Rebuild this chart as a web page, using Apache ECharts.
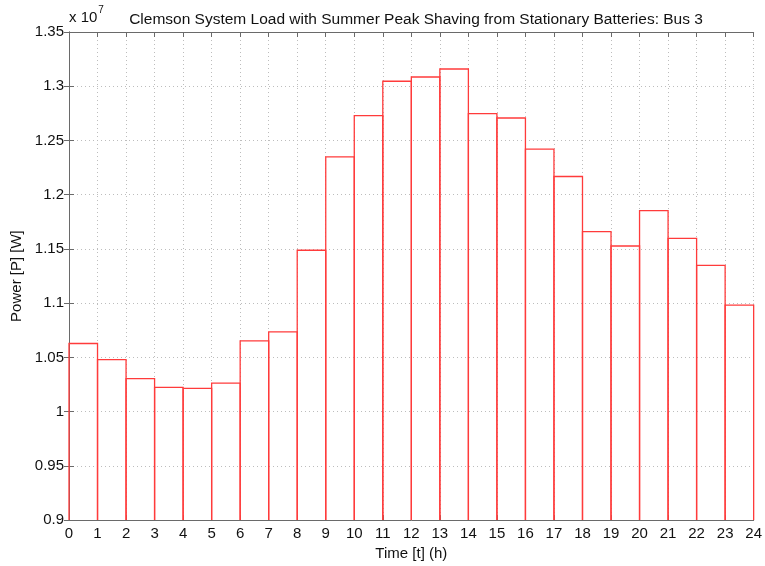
<!DOCTYPE html>
<html>
<head>
<meta charset="utf-8">
<script src="https://cdn.jsdelivr.net/npm/echarts@6/dist/echarts.min.js"></script>
<style>
  html, body { margin: 0; padding: 0; background: #fff; }
  #chart { width: 765px; height: 566px; }
</style>
</head>
<body>
<div id="chart"></div>
<script>
// Hour at which each one-hour block starts
const hourStarts = [0, 1, 2, 3, 4, 5, 6, 7, 8, 9, 10, 11, 12, 13, 14, 15, 16, 17, 18, 19, 20, 21, 22, 23];
// Bus 3 load after peak shaving, in watts
const loadWatts = [
  1.0628e7, 1.0479e7, 1.0305e7, 1.0223e7, 1.0214e7, 1.0262e7,
  1.0652e7, 1.0735e7, 1.1488e7, 1.2348e7, 1.2729e7, 1.3046e7,
  1.3085e7, 1.3159e7, 1.2747e7, 1.2707e7, 1.2421e7, 1.2168e7,
  1.1659e7, 1.1527e7, 1.1854e7, 1.1598e7, 1.1348e7, 1.0982e7
];
const yMin = 0.9e7, yMax = 1.35e7, yStep = 0.05e7;
const titleText = 'Clemson System Load with Summer Peak Shaving from Stationary Batteries: Bus 3';

const chart = echarts.init(document.getElementById('chart'), null, { renderer: 'canvas' });
const font = 'Liberation Sans, Arial, Helvetica, sans-serif';
const frameColor = '#6a6a6a';

const seriesData = hourStarts.map((h, i) => [h, loadWatts[i]]);

const option = {
  animation: false,
  backgroundColor: '#ffffff',
  title: {
    text: titleText,
    left: 411, top: 7, textAlign: 'center',
    textStyle: { fontFamily: font, fontSize: 15.5, fontWeight: 'normal', color: '#111' }
  },
  graphic: [{
    type: 'text', left: 69, top: 5,
    style: {
      text: '{b|x 10}{s|7}',
      rich: {
        b: { fontFamily: font, fontSize: 15, fill: '#111', verticalAlign: 'bottom', lineHeight: 20 },
        s: { fontFamily: font, fontSize: 10, fill: '#111', verticalAlign: 'top', lineHeight: 20, padding: [0, 0, 9, 1] }
      }
    }
  }],
  grid: { left: 69, right: 11, top: 32, bottom: 42, containLabel: false },
  xAxis: [{
    type: 'value', min: 0, max: 24, interval: 1, position: 'bottom',
    name: 'Time [t] (h)', nameLocation: 'middle', nameGap: 22,
    nameTextStyle: { fontFamily: font, fontSize: 15, color: '#111' },
    axisLine: { show: true, lineStyle: { color: frameColor, width: 1 } },
    axisTick: { show: true, inside: true, length: 5, lineStyle: { color: frameColor } },
    axisLabel: { fontFamily: font, fontSize: 15, color: '#111', margin: 6 },
    splitLine: { show: true, lineStyle: { color: '#bdbdbd', type: [1, 3], width: 1 } }
  }, {
    type: 'value', min: 0, max: 24, interval: 1, position: 'top',
    axisLine: { show: true, lineStyle: { color: frameColor, width: 1 } },
    axisTick: { show: true, inside: true, length: 5, lineStyle: { color: frameColor } },
    axisLabel: { show: false },
    splitLine: { show: false }
  }],
  yAxis: [{
    type: 'value', min: yMin, max: yMax, interval: yStep, position: 'left',
    name: 'Power [P] [W]', nameLocation: 'middle', nameGap: 39,
    nameTextStyle: { fontFamily: font, fontSize: 15, color: '#111' },
    axisLine: { show: true, lineStyle: { color: frameColor, width: 1 } },
    axisTick: { show: true, inside: true, length: 5, lineStyle: { color: frameColor } },
    axisLabel: {
      fontFamily: font, fontSize: 15, color: '#111', margin: 5,
      formatter: v => String(parseFloat((v / 1e7).toFixed(2)))
    },
    splitLine: { show: true, lineStyle: { color: '#bdbdbd', type: [1, 3], width: 1 } }
  }, {
    type: 'value', min: yMin, max: yMax, interval: yStep, position: 'right',
    axisLine: { show: true, lineStyle: { color: frameColor, width: 1 } },
    axisTick: { show: true, inside: true, length: 5, lineStyle: { color: frameColor } },
    axisLabel: { show: false },
    splitLine: { show: false }
  }],
  series: [{
    type: 'custom',
    xAxisIndex: 0, yAxisIndex: 0,
    data: seriesData,
    renderItem: function (params, api) {
      const h = api.value(0);
      const p0 = api.coord([h, yMin]);
      const p1 = api.coord([h + 1, api.value(1)]);
      return {
        type: 'polyline',
        shape: { points: [[p0[0], p0[1]], [p0[0], p1[1]], [p1[0], p1[1]], [p1[0], p0[1]]] },
        style: { stroke: '#ff3b3b', lineWidth: 1.3, fill: null }
      };
    },
    z: 3
  }]
};
chart.setOption(option);
</script>
</body>
</html>
